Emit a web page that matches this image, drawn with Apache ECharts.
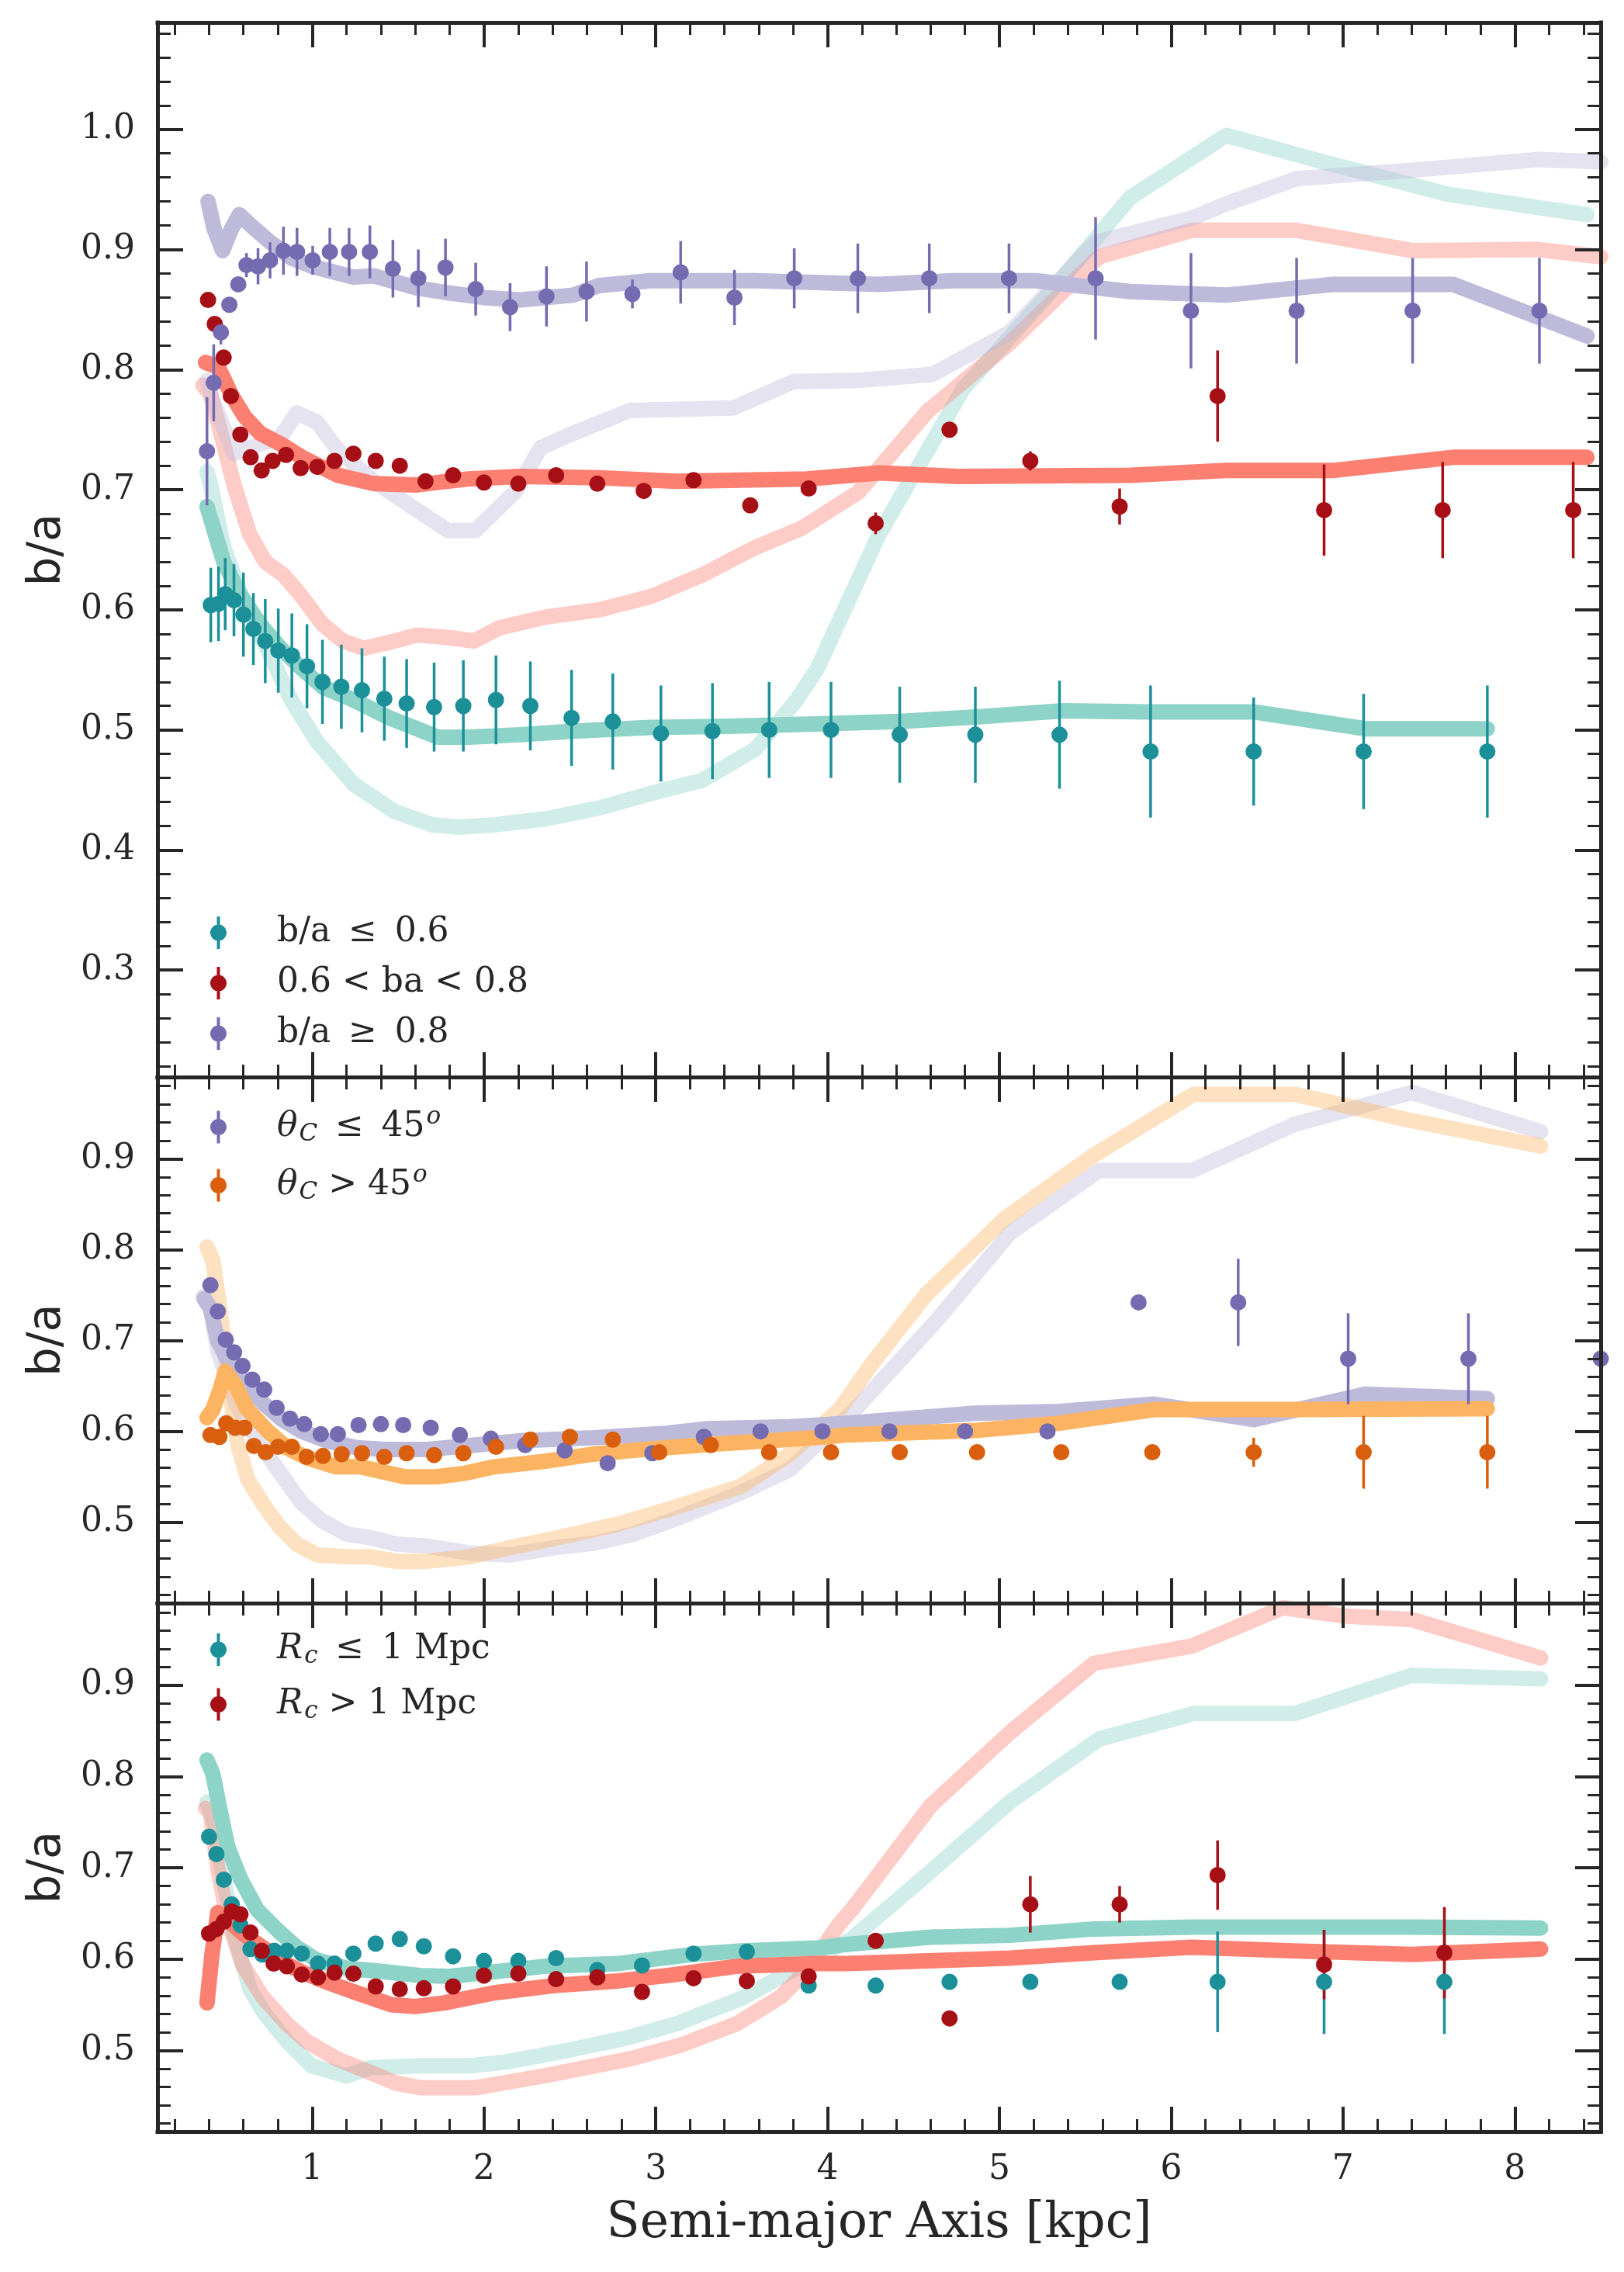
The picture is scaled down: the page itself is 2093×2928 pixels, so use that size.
<!DOCTYPE html>
<html>
<head>
<meta charset="utf-8">
<script src="https://cdn.jsdelivr.net/npm/echarts@6/dist/echarts.min.js"></script>
<style>
  html, body { margin: 0; padding: 0; background: #ffffff; }
  #chart { width: 2093px; height: 2928px; }
</style>
</head>
<body>
<div id="chart"></div>
<script>
// ---- tick labels ----
const xMajor = [1, 2, 3, 4, 5, 6, 7, 8];
const yMajorTop = [0.3, 0.4, 0.5, 0.6, 0.7, 0.8, 0.9, 1.0];
const yMajorSub = [0.5, 0.6, 0.7, 0.8, 0.9];

// ---- panel 1: split by b/a  ([x, y, err]) ----
const p1LowPts = [[0.41,0.604,0.031],[0.455,0.605,0.031],[0.494,0.613,0.03],[0.545,0.608,0.03],[0.60,0.596,0.035],[0.658,0.584,0.03],[0.727,0.574,0.035],[0.803,0.566,0.035],[0.882,0.562,0.035],[0.97,0.553,0.035],[1.06,0.540,0.035],[1.17,0.536,0.035],[1.29,0.533,0.035],[1.42,0.526,0.035],[1.55,0.522,0.037],[1.71,0.519,0.037],[1.88,0.520,0.038],[2.07,0.525,0.037],[2.27,0.520,0.037],[2.51,0.510,0.04],[2.75,0.507,0.04],[3.03,0.497,0.04],[3.33,0.499,0.04],[3.66,0.500,0.04],[4.02,0.500,0.04],[4.42,0.496,0.04],[4.86,0.496,0.04],[5.35,0.496,0.045],[5.88,0.482,0.055],[6.48,0.482,0.045],[7.12,0.482,0.048],[7.84,0.482,0.055]];
const p1MidPts = [[0.394,0.858,0.005],[0.433,0.838,0.005],[0.485,0.810,0.005],[0.527,0.778,0.005],[0.582,0.746,0.005],[0.642,0.727,0.005],[0.706,0.716,0.005],[0.770,0.724,0.005],[0.848,0.729,0.005],[0.933,0.718,0.005],[1.03,0.719,0.005],[1.13,0.724,0.005],[1.24,0.730,0.005],[1.37,0.724,0.005],[1.51,0.720,0.005],[1.66,0.707,0.005],[1.82,0.712,0.005],[2.0,0.706,0.005],[2.20,0.705,0.005],[2.42,0.712,0.005],[2.66,0.705,0.005],[2.93,0.699,0.005],[3.22,0.708,0.005],[3.55,0.687,0.005],[3.89,0.701,0.005],[4.28,0.672,0.009],[4.71,0.750,0.006],[5.18,0.724,0.008],[5.70,0.686,0.015],[6.27,0.778,0.038],[6.89,0.683,0.038],[7.58,0.683,0.040],[8.34,0.683,0.040]];
const p1HighPts = [[0.388,0.732,0.045],[0.427,0.789,0.032],[0.469,0.831,0.01],[0.518,0.854,0.005],[0.570,0.871,0.005],[0.618,0.887,0.01],[0.685,0.886,0.015],[0.755,0.891,0.015],[0.833,0.899,0.02],[0.912,0.898,0.02],[1.003,0.891,0.012],[1.103,0.898,0.02],[1.215,0.898,0.02],[1.336,0.898,0.022],[1.47,0.884,0.024],[1.618,0.876,0.024],[1.776,0.885,0.024],[1.952,0.867,0.022],[2.152,0.852,0.02],[2.364,0.861,0.025],[2.597,0.865,0.025],[2.864,0.863,0.012],[3.145,0.881,0.026],[3.458,0.860,0.023],[3.806,0.876,0.025],[4.176,0.876,0.029],[4.592,0.876,0.029],[5.056,0.876,0.029],[5.56,0.876,0.051],[6.115,0.849,0.048],[6.73,0.849,0.044],[7.405,0.849,0.044],[8.143,0.849,0.044]];
const p1LowLine = [[0.388,0.686],[0.424,0.669],[0.485,0.640],[0.576,0.614],[0.697,0.588],[0.818,0.568],[0.94,0.551],[1.06,0.536],[1.24,0.525],[1.45,0.510],[1.61,0.501],[1.73,0.494],[1.91,0.494],[2.21,0.496],[2.52,0.499],[2.97,0.502],[3.42,0.503],[3.93,0.505],[4.42,0.507],[4.88,0.511],[5.37,0.516],[5.88,0.515],[6.48,0.515],[7.13,0.501],[7.84,0.501]];
const p1LowAll = [[0.388,0.715],[0.409,0.704],[0.485,0.652],[0.606,0.605],[0.727,0.571],[0.878,0.525],[1.03,0.49],[1.24,0.455],[1.48,0.432],[1.70,0.421],[1.85,0.419],[2.06,0.421],[2.36,0.426],[2.67,0.435],[2.97,0.447],[3.27,0.458],[3.58,0.484],[3.82,0.525],[3.94,0.551],[4.30,0.663],[4.79,0.784],[5.30,0.865],[5.76,0.943],[6.32,0.995],[6.91,0.972],[7.61,0.946],[8.42,0.929]];
const p1MidLine = [[0.379,0.806],[0.454,0.802],[0.53,0.779],[0.606,0.761],[0.697,0.747],[0.818,0.738],[0.94,0.727],[1.15,0.712],[1.36,0.705],[1.61,0.704],[1.91,0.709],[2.21,0.711],[2.67,0.710],[3.12,0.707],[3.88,0.709],[4.30,0.714],[4.76,0.711],[5.76,0.712],[6.32,0.716],[6.94,0.716],[7.64,0.727],[8.42,0.727]];
const p1MidAll = [[0.364,0.787],[0.409,0.779],[0.485,0.738],[0.545,0.704],[0.636,0.663],[0.727,0.640],[0.833,0.629],[0.94,0.611],[1.06,0.588],[1.18,0.574],[1.30,0.568],[1.48,0.574],[1.61,0.579],[1.79,0.577],[1.94,0.574],[2.09,0.585],[2.36,0.594],[2.67,0.600],[2.97,0.611],[3.27,0.629],[3.58,0.652],[3.85,0.668],[4.18,0.698],[4.58,0.765],[5.06,0.822],[5.58,0.894],[6.12,0.916],[6.73,0.916],[7.41,0.899],[8.13,0.900],[8.5,0.894]];
const p1HighLine = [[0.394,0.940],[0.430,0.917],[0.479,0.899],[0.530,0.917],[0.576,0.929],[0.667,0.917],[0.757,0.906],[0.878,0.893],[0.999,0.886],[1.24,0.877],[1.36,0.878],[1.61,0.868],[1.79,0.864],[2.0,0.860],[2.21,0.858],[2.52,0.862],[2.67,0.870],[2.97,0.874],[3.58,0.874],[4.30,0.871],[4.73,0.874],[5.21,0.874],[5.76,0.865],[6.32,0.862],[6.94,0.871],[7.64,0.871],[8.42,0.828]];
const p1HighAll = [[0.388,0.791],[0.42,0.775],[0.545,0.730],[0.697,0.738],[0.818,0.744],[0.91,0.764],[1.03,0.756],[1.15,0.733],[1.36,0.707],[1.61,0.683],[1.79,0.666],[1.95,0.666],[2.18,0.698],[2.33,0.735],[2.52,0.747],[2.85,0.766],[3.45,0.768],[3.80,0.790],[4.17,0.791],[4.61,0.796],[5.06,0.831],[5.56,0.906],[6.12,0.926],[6.32,0.938],[6.73,0.959],[7.40,0.966],[8.14,0.975],[8.5,0.973]];

// ---- panel 2: split by theta_C ----
const p2LowPts = [[0.408,0.761,0.005],[0.451,0.732,0.005],[0.497,0.701,0.005],[0.546,0.687,0.005],[0.595,0.672,0.005],[0.652,0.657,0.005],[0.721,0.646,0.005],[0.793,0.626,0.005],[0.871,0.614,0.005],[0.954,0.608,0.005],[1.05,0.597,0.005],[1.15,0.597,0.005],[1.27,0.607,0.005],[1.40,0.608,0.005],[1.53,0.607,0.005],[1.69,0.604,0.005],[1.86,0.596,0.005],[2.04,0.592,0.005],[2.24,0.585,0.005],[2.47,0.579,0.005],[2.72,0.565,0.005],[2.98,0.576,0.005],[3.28,0.594,0.005],[3.61,0.600,0.005],[3.97,0.600,0.005],[4.36,0.600,0.005],[4.80,0.600,0.005],[5.28,0.600,0.005],[5.81,0.742,0.006],[6.39,0.742,0.048],[7.03,0.680,0.05],[7.73,0.680,0.05],[8.50,0.680,0.05]];
const p2HighPts = [[0.408,0.596,0.005],[0.460,0.594,0.005],[0.50,0.609,0.005],[0.552,0.604,0.005],[0.606,0.604,0.005],[0.661,0.584,0.005],[0.730,0.577,0.005],[0.802,0.583,0.005],[0.882,0.583,0.005],[0.968,0.572,0.005],[1.063,0.573,0.005],[1.172,0.575,0.005],[1.29,0.576,0.005],[1.42,0.572,0.005],[1.55,0.576,0.005],[1.71,0.574,0.005],[1.88,0.576,0.005],[2.07,0.583,0.005],[2.27,0.591,0.005],[2.50,0.594,0.005],[2.75,0.591,0.005],[3.02,0.577,0.005],[3.32,0.585,0.005],[3.66,0.577,0.005],[4.02,0.577,0.005],[4.42,0.577,0.005],[4.87,0.577,0.005],[5.36,0.577,0.005],[5.89,0.577,0.006],[6.48,0.577,0.016],[7.12,0.577,0.04],[7.84,0.577,0.04]];
const p2LowLine = [[0.371,0.746],[0.408,0.735],[0.45,0.70],[0.51,0.678],[0.595,0.655],[0.71,0.632],[0.825,0.613],[0.94,0.60],[1.08,0.59],[1.26,0.582],[1.43,0.58],[1.66,0.58],[1.89,0.584],[2.23,0.59],[2.64,0.593],[3.07,0.598],[3.30,0.603],[3.78,0.605],[4.11,0.609],[4.86,0.620],[5.35,0.622],[5.90,0.63],[6.48,0.613],[7.13,0.641],[7.84,0.636]];
const p2HighLine = [[0.388,0.615],[0.422,0.624],[0.466,0.647],[0.494,0.666],[0.552,0.651],[0.624,0.624],[0.738,0.601],[0.853,0.582],[0.968,0.571],[1.14,0.561],[1.28,0.561],[1.40,0.556],[1.54,0.55],[1.72,0.55],[1.89,0.554],[2.06,0.561],[2.35,0.567],[2.64,0.575],[2.92,0.58],[3.35,0.586],[3.93,0.593],[4.11,0.596],[4.86,0.601],[5.35,0.609],[5.90,0.624],[6.71,0.624],[7.84,0.625]];
const p2LowAll = [[0.365,0.748],[0.408,0.738],[0.45,0.689],[0.552,0.632],[0.68,0.59],[0.796,0.559],[0.94,0.521],[1.055,0.502],[1.20,0.487],[1.34,0.483],[1.49,0.476],[1.66,0.474],[1.92,0.466],[2.15,0.464],[2.41,0.472],[2.64,0.477],[2.87,0.487],[3.15,0.506],[3.50,0.533],[3.78,0.558],[3.96,0.59],[4.14,0.62],[4.63,0.721],[5.06,0.818],[5.58,0.887],[6.12,0.887],[6.72,0.938],[7.40,0.973],[8.15,0.93]];
const p2HighAll = [[0.388,0.803],[0.422,0.788],[0.466,0.731],[0.51,0.662],[0.566,0.586],[0.624,0.548],[0.71,0.521],[0.81,0.495],[0.91,0.476],[1.03,0.464],[1.20,0.462],[1.34,0.462],[1.49,0.457],[1.66,0.457],[1.92,0.462],[2.15,0.472],[2.43,0.483],[2.78,0.498],[3.07,0.514],[3.50,0.540],[3.78,0.575],[4.07,0.624],[4.24,0.670],[4.57,0.750],[5.03,0.834],[5.55,0.904],[6.13,0.971],[6.72,0.971],[7.40,0.942],[8.15,0.914]];

// ---- panel 3: split by R_c ----
const p3LowPts = [[0.40,0.734,0.005],[0.443,0.715,0.005],[0.486,0.687,0.005],[0.532,0.660,0.005],[0.583,0.637,0.005],[0.641,0.611,0.005],[0.71,0.605,0.005],[0.779,0.609,0.005],[0.853,0.609,0.005],[0.94,0.606,0.005],[1.034,0.595,0.005],[1.13,0.595,0.005],[1.24,0.606,0.005],[1.37,0.617,0.005],[1.51,0.622,0.005],[1.65,0.614,0.005],[1.82,0.603,0.005],[2.0,0.598,0.005],[2.20,0.598,0.005],[2.42,0.601,0.005],[2.66,0.588,0.005],[2.92,0.593,0.005],[3.22,0.606,0.005],[3.53,0.608,0.005],[3.89,0.571,0.005],[4.28,0.571,0.005],[4.71,0.575,0.005],[5.18,0.575,0.006],[5.70,0.575,0.006],[6.27,0.575,0.055],[6.89,0.575,0.057],[7.59,0.575,0.057]];
const p3HighPts = [[0.40,0.628,0.006],[0.443,0.633,0.005],[0.486,0.641,0.005],[0.532,0.652,0.005],[0.583,0.649,0.005],[0.641,0.629,0.005],[0.707,0.609,0.005],[0.776,0.595,0.005],[0.853,0.592,0.005],[0.94,0.583,0.005],[1.034,0.580,0.005],[1.13,0.585,0.005],[1.24,0.584,0.005],[1.37,0.570,0.005],[1.51,0.567,0.005],[1.65,0.568,0.005],[1.82,0.570,0.005],[2.0,0.582,0.005],[2.20,0.584,0.005],[2.42,0.578,0.005],[2.66,0.580,0.005],[2.92,0.564,0.005],[3.22,0.579,0.005],[3.53,0.576,0.005],[3.89,0.581,0.005],[4.28,0.620,0.005],[4.71,0.535,0.006],[5.18,0.660,0.031],[5.70,0.660,0.02],[6.27,0.692,0.038],[6.89,0.594,0.038],[7.59,0.607,0.05]];
const p3LowLine = [[0.388,0.818],[0.422,0.803],[0.466,0.761],[0.509,0.723],[0.58,0.689],[0.68,0.654],[0.796,0.632],[0.91,0.613],[1.026,0.599],[1.20,0.590],[1.43,0.586],[1.63,0.582],[1.80,0.581],[2.06,0.586],[2.35,0.592],[2.78,0.595],[3.21,0.605],[3.50,0.609],[3.93,0.612],[4.11,0.616],[4.60,0.624],[5.06,0.626],[5.55,0.633],[6.13,0.635],[6.71,0.635],[7.40,0.635],[8.15,0.634]];
const p3HighLine = [[0.388,0.552],[0.417,0.605],[0.451,0.651],[0.509,0.643],[0.595,0.628],[0.71,0.613],[0.825,0.597],[0.94,0.586],[1.08,0.575],[1.26,0.563],[1.46,0.55],[1.60,0.548],[1.77,0.552],[2.06,0.563],[2.41,0.571],[2.78,0.576],[3.07,0.582],[3.47,0.592],[3.93,0.595],[4.11,0.595],[5.06,0.601],[5.55,0.607],[6.12,0.613],[6.71,0.609],[7.40,0.605],[8.15,0.611]];
const p3LowAll = [[0.388,0.772],[0.437,0.746],[0.48,0.692],[0.552,0.624],[0.638,0.567],[0.724,0.540],[0.853,0.510],[0.997,0.483],[1.20,0.472],[1.34,0.481],[1.63,0.483],[1.92,0.483],[2.12,0.487],[2.49,0.500],[2.84,0.514],[3.12,0.529],[3.50,0.557],[3.78,0.586],[4.14,0.622],[4.60,0.696],[5.06,0.772],[5.58,0.841],[6.13,0.869],[6.72,0.869],[7.40,0.911],[8.15,0.907]];
const p3HighAll = [[0.379,0.765],[0.408,0.761],[0.45,0.70],[0.509,0.643],[0.595,0.594],[0.71,0.559],[0.853,0.529],[0.968,0.510],[1.14,0.491],[1.31,0.478],[1.49,0.464],[1.63,0.459],[1.95,0.459],[2.35,0.472],[2.86,0.491],[3.15,0.506],[3.47,0.529],[3.73,0.559],[3.87,0.586],[4.07,0.639],[4.14,0.654],[4.60,0.768],[5.06,0.848],[5.55,0.924],[6.12,0.943],[6.65,0.985],[7.00,0.976],[7.40,0.972],[8.15,0.930]];

// ---- styling ----
const INK = '#262626';
const SERIF = 'DejaVu Serif';
const TEAL = '#1c9099', RED = '#a50f15', PURPLE = '#756bb1', ORANGE = '#d95f0e';
const TEAL_L = '#8dd3c7', RED_L = '#fb8072', PURPLE_L = '#bebada', ORANGE_L = '#fdb462';
const X_MIN = 0.1, X_MAX = 8.5;

// minor tick positions (every 0.2 in x, 0.02 in y, skipping the majors)
function minors(lo, hi, step, every) {
  const out = [];
  for (let i = Math.ceil(lo / step); i * step <= hi + 1e-9; i++) {
    if (i % every !== 0) out.push(+(i * step).toFixed(4));
  }
  return out;
}
const xMinor = minors(X_MIN, X_MAX, 0.2, 5);

// three stacked panels: top/height in px, y range
const panels = [
  { top: 29, height: 1359, ymin: 0.211, ymax: 1.089, majors: yMajorTop },
  { top: 1388, height: 678, ymin: 0.411, ymax: 0.99, majors: yMajorSub },
  { top: 2066, height: 681, ymin: 0.411, ymax: 0.99, majors: yMajorSub }
];

const grid = panels.map(p => ({ left: 203, right: 30, top: p.top, height: p.height }));

const majorTick = (vals, len) => ({ show: true, inside: true, length: len, customValues: vals, lineStyle: { color: INK, width: 4 } });
const minorTick = (vals, len) => ({ show: true, inside: true, length: len, customValues: vals, lineStyle: { color: INK, width: 3 } });
const spine = { show: true, onZero: false, lineStyle: { color: INK, width: 5, cap: 'square' } };

const xAxis = [];
const yAxis = [];
panels.forEach((p, g) => {
  const last = g === panels.length - 1;
  const xb = { gridIndex: g, type: 'value', min: X_MIN, max: X_MAX, splitLine: { show: false }, z: 10 };
  xAxis.push(Object.assign({}, xb, {
    position: 'bottom', axisLine: spine, axisTick: majorTick(xMajor, 32),
    axisLabel: { show: last, customValues: xMajor, margin: 28, fontSize: 44, fontFamily: SERIF, color: INK, formatter: v => String(v) },
    name: last ? 'Semi-major Axis [kpc]' : '', nameLocation: 'middle', nameGap: 88,
    nameTextStyle: { fontFamily: SERIF, fontSize: 63, color: INK }
  }));
  xAxis.push(Object.assign({}, xb, { position: 'bottom', axisLine: { show: false }, axisTick: minorTick(xMinor, 16), axisLabel: { show: false } }));
  xAxis.push(Object.assign({}, xb, { position: 'top', axisLine: spine, axisTick: majorTick(xMajor, 32), axisLabel: { show: false } }));
  xAxis.push(Object.assign({}, xb, { position: 'top', axisLine: { show: false }, axisTick: minorTick(xMinor, 16), axisLabel: { show: false } }));

  const yMinor = minors(p.ymin, p.ymax, 0.02, 5);
  const yb = { gridIndex: g, type: 'value', min: p.ymin, max: p.ymax, splitLine: { show: false }, z: 10 };
  yAxis.push(Object.assign({}, yb, {
    position: 'left', axisLine: spine, axisTick: majorTick(p.majors, 33),
    axisLabel: { show: true, customValues: p.majors, margin: 29, fontSize: 44, fontFamily: SERIF, color: INK, formatter: v => v.toFixed(1) },
    name: 'b/a', nameLocation: 'middle', nameRotate: 90, nameGap: 112,
    nameTextStyle: { fontFamily: 'DejaVu Sans', fontSize: 59, color: INK }
  }));
  yAxis.push(Object.assign({}, yb, { position: 'left', axisLine: { show: false }, axisTick: minorTick(yMinor, 17), axisLabel: { show: false } }));
  yAxis.push(Object.assign({}, yb, { position: 'right', axisLine: spine, axisTick: majorTick(p.majors, 33), axisLabel: { show: false } }));
  yAxis.push(Object.assign({}, yb, { position: 'right', axisLine: { show: false }, axisTick: minorTick(yMinor, 17), axisLabel: { show: false } }));
});

function band(g, data, color, opacity, z) {
  return {
    type: 'line', xAxisIndex: g * 4, yAxisIndex: g * 4, data: data,
    showSymbol: false, symbol: 'none', silent: true, z: z,
    lineStyle: { color: color, width: 20, opacity: opacity, cap: 'round', join: 'round' }
  };
}
function errBars(g, data, color) {
  return {
    type: 'custom', xAxisIndex: g * 4, yAxisIndex: g * 4, data: data, clip: true, silent: true, z: 4,
    encode: { x: 0, y: 1 },
    renderItem: function (params, api) {
      const x = api.value(0), y = api.value(1), e = api.value(2);
      const a = api.coord([x, y - e]);
      const b = api.coord([x, y + e]);
      return { type: 'line', shape: { x1: a[0], y1: a[1], x2: b[0], y2: b[1] }, style: { stroke: color, lineWidth: 3.5 } };
    }
  };
}
function points(g, name, data, color) {
  return {
    type: 'scatter', name: name, xAxisIndex: g * 4, yAxisIndex: g * 4, data: data,
    encode: { x: 0, y: 1 }, symbol: 'circle', symbolSize: 21, silent: true, z: 5,
    itemStyle: { color: color, opacity: 1 }
  };
}

const N1 = 'b/a ≤ 0.6', N2 = '0.6 < ba < 0.8', N3 = 'b/a ≥ 0.8';
const N4 = 'theta le', N5 = 'theta gt', N6 = 'Rc le', N7 = 'Rc gt';
const SP = ' \u2009';

const series = [
  // panel 1
  band(0, p1LowAll, TEAL_L, 0.4, 2), band(0, p1MidAll, RED_L, 0.4, 2), band(0, p1HighAll, PURPLE_L, 0.4, 2),
  band(0, p1LowLine, TEAL_L, 1, 3), band(0, p1MidLine, RED_L, 1, 3), band(0, p1HighLine, PURPLE_L, 1, 3),
  errBars(0, p1LowPts, TEAL), errBars(0, p1MidPts, RED), errBars(0, p1HighPts, PURPLE),
  points(0, N1, p1LowPts, TEAL), points(0, N2, p1MidPts, RED), points(0, N3, p1HighPts, PURPLE),
  // panel 2
  band(1, p2LowAll, PURPLE_L, 0.4, 2), band(1, p2HighAll, ORANGE_L, 0.4, 2),
  band(1, p2LowLine, PURPLE_L, 1, 3), band(1, p2HighLine, ORANGE_L, 1, 3),
  errBars(1, p2LowPts, PURPLE), errBars(1, p2HighPts, ORANGE),
  points(1, N4, p2LowPts, PURPLE), points(1, N5, p2HighPts, ORANGE),
  // panel 3
  band(2, p3LowAll, TEAL_L, 0.4, 2), band(2, p3HighAll, RED_L, 0.4, 2),
  band(2, p3LowLine, TEAL_L, 1, 3), band(2, p3HighLine, RED_L, 1, 3),
  errBars(2, p3LowPts, TEAL), errBars(2, p3HighPts, RED),
  points(2, N6, p3LowPts, TEAL), points(2, N7, p3HighPts, RED)
];

// legend glyph: dot with a vertical error bar through it (21 x 42 box), circle from cubic curves
const ICON = 'path://M8.5,0L12.5,0L12.5,42L8.5,42Z' +
  'M0,21C0,15.2 4.7,10.5 10.5,10.5C16.3,10.5 21,15.2 21,21C21,26.8 16.3,31.5 10.5,31.5C4.7,31.5 0,26.8 0,21Z';
const labels = {};
labels[N1] = 'b/a' + SP + '≤' + SP + '0.6';
labels[N2] = '0.6 < ba < 0.8';
labels[N3] = 'b/a' + SP + '≥' + SP + '0.8';
labels[N4] = '{it|θ}{sub|C}' + SP + '≤' + SP + '45{sup|o}';
labels[N5] = '{it|θ}{sub|C} > 45{sup|o}';
labels[N6] = '{it|R}{sub|c}' + SP + '≤' + SP + '1 Mpc';
labels[N7] = '{it|R}{sub|c} > 1 Mpc';

const legendText = {
  fontFamily: SERIF, fontSize: 44, color: INK, lineHeight: 42, padding: [0, 0, 0, 60],
  rich: {
    it: { fontFamily: SERIF, fontSize: 44, fontStyle: 'italic', color: INK },
    sub: { fontFamily: SERIF, fontSize: 31, fontStyle: 'italic', color: INK, padding: [18, 0, 0, 2] },
    sup: { fontFamily: SERIF, fontSize: 31, fontStyle: 'italic', color: INK, padding: [0, 0, 26, 2] }
  }
};
function legend(names, top, gap) {
  return {
    data: names, orient: 'vertical', left: 271, top: top, itemGap: gap, padding: 0,
    itemWidth: 21, itemHeight: 42, icon: ICON, selectedMode: false,
    formatter: n => labels[n], textStyle: legendText
  };
}

const chart = echarts.init(document.getElementById('chart'), null, { renderer: 'canvas', width: 2093, height: 2928 });
chart.setOption({
  backgroundColor: '#ffffff',
  animation: false,
  grid: grid,
  xAxis: xAxis,
  yAxis: yAxis,
  legend: [
    legend([N1, N2, N3], 1180, 21),
    legend([N4, N5], 1424, 22),
    legend([N6, N7], 2104, 24)
  ],
  series: series
});
</script>
</body>
</html>
